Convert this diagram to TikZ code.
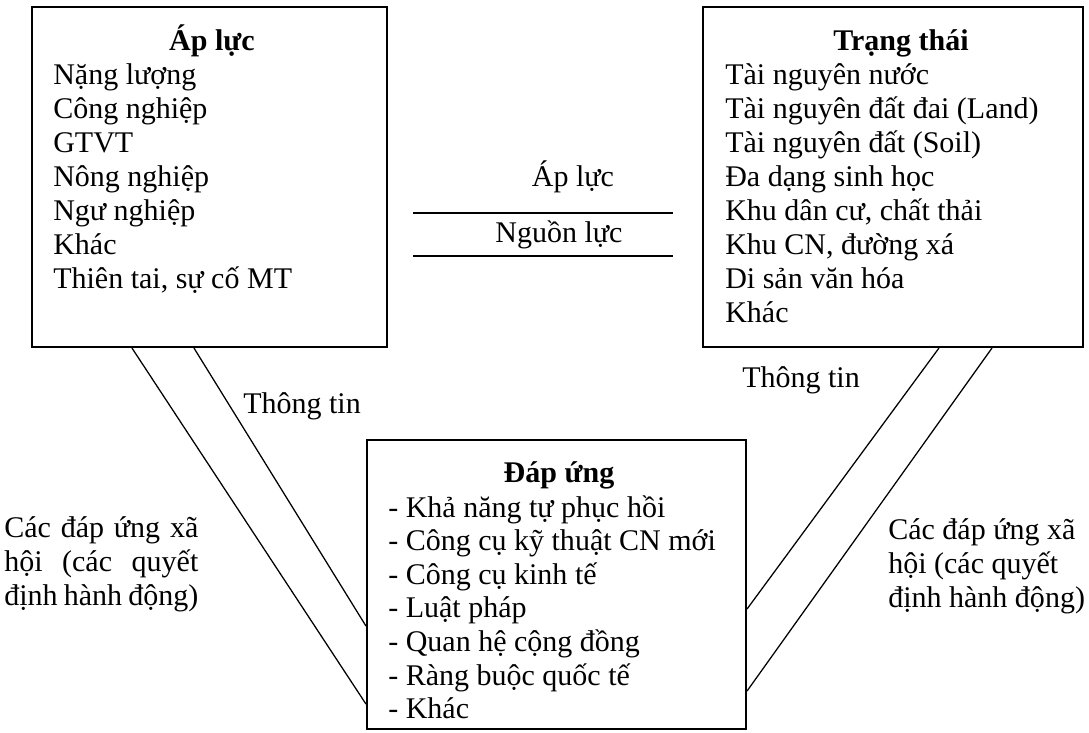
\documentclass[tikz,border=0pt]{standalone}
\usepackage{fontspec}
\setmainfont{Liberation Serif}
\usetikzlibrary{calc}

\tikzset{
  box/.style={draw, line width=1.4pt, inner sep=0pt},
  lbl/.style={inner sep=0pt, font=\fontsize{21.34}{23.9}\selectfont},
  ttl/.style={inner sep=0pt, font=\fontsize{21.34}{23.9}\selectfont\bfseries},
  conn/.style={line width=0.9pt},
}

\begin{document}
\begin{tikzpicture}[x=0.025cm, y=-0.025cm]
    \useasboundingbox (0,0) rectangle (1089,732);

    % Boxes
    \node[box, minimum width=8.875cm, minimum height=8.5cm] (ap) at (209.5,177) {};
    \node[box, minimum width=9.5cm, minimum height=8.5cm] (tt) at (893,177) {};
    \node[box, minimum width=9.475cm, minimum height=7.225cm] (du) at (556.5,584.5) {};

    % Pressure box
    \node[ttl, anchor=base] (ap-t) at (212,50) {Áp lực};
    \foreach \txt [count=\i from 0] in {Nặng lượng, Công nghiệp, GTVT, Nông nghiệp,
        Ngư nghiệp, Khác, {Thiên tai, sự cố MT}}
      \node[lbl, anchor=base west] (ap-\i) at (53,84+34*\i) {\txt};

    % State box
    \node[ttl, anchor=base] (tt-t) at (901,50) {Trạng thái};
    \foreach \txt [count=\i from 0] in {Tài nguyên nước, Tài nguyên đất đai (Land),
        Tài nguyên đất (Soil), Đa dạng sinh học, {Khu dân cư, chất thải},
        {Khu CN, đường xá}, Di sản văn hóa, Khác}
      \node[lbl, anchor=base west] (tt-\i) at (725,84+34*\i) {\txt};

    % Response box
    \node[ttl, anchor=base] (du-t) at (559,482) {Đáp ứng};
    \foreach \txt [count=\i from 0] in {- Khả năng tự phục hồi, - Công cụ kỹ thuật CN mới,
        - Công cụ kinh tế, - Luật pháp, - Quan hệ cộng đồng, - Ràng buộc quốc tế, - Khác}
      \node[lbl, anchor=base west] (du-\i) at (388,517+33.6*\i) {\txt};

    % Middle: pressure over resources
    \coordinate (h1w) at (413,213);
    \coordinate (h1e) at (673,213);
    \coordinate (h2w) at (413,256);
    \coordinate (h2e) at (673,256);
    \draw[conn] (h1w) -- (h1e);
    \draw[conn] (h2w) -- (h2e);
    \node[lbl, anchor=base] (mid-ap) at (573,186) {Áp lực};
    \node[lbl, anchor=base] (mid-ng) at (559,242) {Nguồn lực};

    % Connectors
    \draw[conn] ($(ap.south west)+(101,0)$) -- ($(du.south west)+(0,-26)$);
    \draw[conn] ($(ap.south west)+(163,0)$) -- ($(du.south west)+(0,-104)$);
    \draw[conn] ($(tt.south west)+(237,0)$) -- ($(du.south east)+(0,-121)$);
    \draw[conn] ($(tt.south west)+(290,0)$) -- ($(du.south east)+(0,-39)$);

    % Labels on connectors
    \node[lbl, anchor=base west] (info-l) at (243,413) {Thông tin};
    \node[lbl, anchor=base west] (info-r) at (742,387) {Thông tin};
    \node[lbl, text width=4.85cm, align=justify, anchor=north west] (soc-l) at (4,514)
      {\strut Các đáp ứng xã\linebreak hội (các quyết\linebreak định hành động)};
    \node[lbl, align=left, anchor=north west] (soc-r) at (888,516)
      {\strut Các đáp ứng xã\\hội (các quyết\\định hành động)};
\end{tikzpicture}
\end{document}
